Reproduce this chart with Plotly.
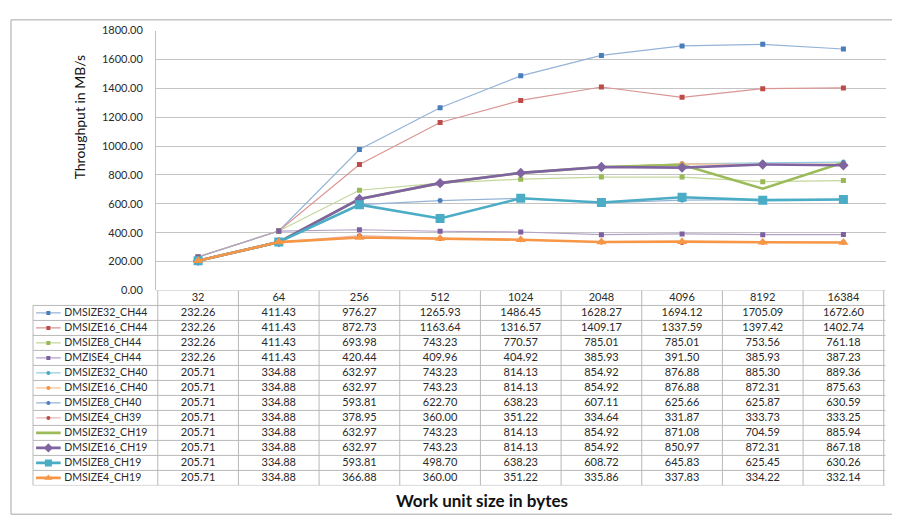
import plotly.graph_objects as go

categories = ["32", "64", "256", "512", "1024", "2048", "4096", "8192", "16384"]

series_names = [
    "DMSIZE32_CH44", "DMSIZE16_CH44", "DMSIZE8_CH44", "DMZISE4_CH44",
    "DMSIZE32_CH40", "DMSIZE16_CH40", "DMSIZE8_CH40", "DMSIZE4_CH39",
    "DMSIZE32_CH19", "DMSIZE16_CH19", "DMSIZE8_CH19", "DMSIZE4_CH19",
]

dmsize32_ch44 = [232.26, 411.43, 976.27, 1265.93, 1486.45, 1628.27, 1694.12, 1705.09, 1672.60]
dmsize16_ch44 = [232.26, 411.43, 872.73, 1163.64, 1316.57, 1409.17, 1337.59, 1397.42, 1402.74]
dmsize8_ch44 = [232.26, 411.43, 693.98, 743.23, 770.57, 785.01, 785.01, 753.56, 761.18]
dmzise4_ch44 = [232.26, 411.43, 420.44, 409.96, 404.92, 385.93, 391.50, 385.93, 387.23]
dmsize32_ch40 = [205.71, 334.88, 632.97, 743.23, 814.13, 854.92, 876.88, 885.30, 889.36]
dmsize16_ch40 = [205.71, 334.88, 632.97, 743.23, 814.13, 854.92, 876.88, 872.31, 875.63]
dmsize8_ch40 = [205.71, 334.88, 593.81, 622.70, 638.23, 607.11, 625.66, 625.87, 630.59]
dmsize4_ch39 = [205.71, 334.88, 378.95, 360.00, 351.22, 334.64, 331.87, 333.73, 333.25]
dmsize32_ch19 = [205.71, 334.88, 632.97, 743.23, 814.13, 854.92, 871.08, 704.59, 885.94]
dmsize16_ch19 = [205.71, 334.88, 632.97, 743.23, 814.13, 854.92, 850.97, 872.31, 867.18]
dmsize8_ch19 = [205.71, 334.88, 593.81, 498.70, 638.23, 608.72, 645.83, 625.45, 630.26]
dmsize4_ch19 = [205.71, 334.88, 366.88, 360.00, 351.22, 335.86, 337.83, 334.22, 332.14]

series_values = [
    dmsize32_ch44, dmsize16_ch44, dmsize8_ch44, dmzise4_ch44,
    dmsize32_ch40, dmsize16_ch40, dmsize8_ch40, dmsize4_ch39,
    dmsize32_ch19, dmsize16_ch19, dmsize8_ch19, dmsize4_ch19,
]

y_ticks = [0, 200, 400, 600, 800, 1000, 1200, 1400, 1600, 1800]

# styles: (line color, line width, marker color, marker symbol, marker size, legend marker size)
styles = [
    ("#95B3D7", 1.2, "#4A7EBB", "square", 5, 4),
    ("#D99694", 1.2, "#BE4B48", "square", 5, 4),
    ("#C3D69B", 1.2, "#98B954", "square", 5, 4),
    ("#B3A2C7", 1.2, "#7D60A0", "square", 5, 4),
    ("#93CDDD", 1.2, "#46AAC5", "circle", 5, 4),
    ("#FAC090", 1.2, "#F69240", "circle", 5, 4),
    ("#95B3D7", 1.2, "#4A7EBB", "circle", 5, 4),
    ("#E6B9B8", 1.2, "#BE4B48", "circle", 5, 4),
    ("#9BBB59", 2.6, None, None, 0, 0),
    ("#8064A2", 2.6, "#8064A2", "diamond", 8, 7),
    ("#4BACC6", 2.6, "#4BACC6", "square", 9, 7),
    ("#F79646", 2.6, "#F79646", "triangle-up", 9, 7),
]

W, H = 900, 519
FONT = "Lato"
TXT = "#2a2a2a"
GRID = "#c4c4c4"
TLINE = "#b8b8b8"

def px(x):
    return x / W

def py(y):
    return 1 - y / H

PLOT_L, PLOT_R, PLOT_T, PLOT_B = 148, 877.5, 16, 282.5
TABLE_L, TABLE_B = 25, 482.5

fig = go.Figure()

# main chart lines
for name, vals, st in zip(series_names, series_values, styles):
    lc, lw, mc, sym, ms, _ = st
    if sym is None:
        fig.add_trace(go.Scatter(x=categories, y=vals, mode="lines", name=name,
                                 line=dict(color=lc, width=lw), hoverinfo="skip",
                                 showlegend=False, xaxis="x", yaxis="y"))
    else:
        fig.add_trace(go.Scatter(x=categories, y=vals, mode="lines+markers", name=name,
                                 line=dict(color=lc, width=lw),
                                 marker=dict(color=mc, symbol=sym, size=ms, line=dict(width=0)),
                                 hoverinfo="skip", showlegend=False, xaxis="x", yaxis="y"))

# table header
fig.add_trace(go.Scatter(x=categories, y=[0] * len(categories), mode="text",
                         text=categories, textposition="middle center",
                         textfont=dict(family=FONT, size=11, color=TXT),
                         hoverinfo="skip", showlegend=False, xaxis="x2", yaxis="y2"))

# table rows
for r, (name, vals, st) in enumerate(zip(series_names, series_values, styles), start=1):
    fig.add_trace(go.Scatter(x=categories, y=[r] * len(categories), mode="text",
                             text=[f"{v:.2f}" for v in vals], textposition="middle center",
                             textfont=dict(family=FONT, size=11, color=TXT),
                             hoverinfo="skip", showlegend=False, xaxis="x2", yaxis="y2"))
    lc, lw, mc, sym, ms, lms = st
    # legend key line
    fig.add_trace(go.Scatter(x=[0.025, 0.225], y=[r, r], mode="lines",
                             line=dict(color=lc, width=lw), hoverinfo="skip",
                             showlegend=False, xaxis="x3", yaxis="y2"))
    if sym is not None:
        fig.add_trace(go.Scatter(x=[0.125], y=[r], mode="markers",
                                 marker=dict(color=mc, symbol=sym, size=lms, line=dict(width=0)),
                                 hoverinfo="skip", showlegend=False, xaxis="x3", yaxis="y2"))
    fig.add_trace(go.Scatter(x=[0.255], y=[r], mode="text", text=[name],
                             textposition="middle right",
                             textfont=dict(family=FONT, size=10.5, color=TXT),
                             hoverinfo="skip", showlegend=False, xaxis="x3", yaxis="y2"))

shapes = []
n_rows = len(series_names)
n_cols = len(categories)
# horizontal table lines
shapes.append(dict(type="line", xref="paper", yref="y2", x0=px(PLOT_L), x1=px(PLOT_R),
                   y0=-0.5, y1=-0.5, line=dict(color=TLINE, width=1)))
for r in range(n_rows + 1):
    shapes.append(dict(type="line", xref="paper", yref="y2", x0=px(TABLE_L), x1=px(PLOT_R),
                       y0=r + 0.5, y1=r + 0.5, line=dict(color=TLINE, width=1)))
# vertical table lines
for c in range(n_cols + 1):
    shapes.append(dict(type="line", xref="x2", yref="y2", x0=c - 0.5, x1=c - 0.5,
                       y0=-0.5, y1=n_rows + 0.5, line=dict(color=TLINE, width=1)))
shapes.append(dict(type="line", xref="paper", yref="y2", x0=px(TABLE_L), x1=px(TABLE_L),
                   y0=0.5, y1=n_rows + 0.5, line=dict(color=TLINE, width=1)))
# outer chart frame
shapes.append(dict(type="rect", xref="paper", yref="paper", x0=px(3), x1=px(891),
                   y0=py(512), y1=py(5), line=dict(color="#a6a6a6", width=1)))

fig.update_layout(
    width=W, height=H, autosize=False,
    margin=dict(l=0, r=0, t=0, b=0),
    paper_bgcolor="white", plot_bgcolor="white",
    font=dict(family=FONT, color=TXT),
    showlegend=False,
    shapes=shapes,
    xaxis=dict(type="category", categoryorder="array", categoryarray=categories,
               domain=[px(PLOT_L), px(PLOT_R)], anchor="y",
               showticklabels=False, showgrid=False, zeroline=False, showline=False, ticks=""),
    yaxis=dict(domain=[py(PLOT_B), py(PLOT_T)], anchor="x", range=[0, 1800],
               tickvals=y_ticks, tickformat=".2f",
               showgrid=True, gridcolor=GRID, gridwidth=1.4, zeroline=False,
               showline=True, linecolor="#bfbfbf", linewidth=1, ticks="",
               ticklabelstandoff=10,
               tickfont=dict(family=FONT, size=11, color=TXT)),
    xaxis2=dict(type="category", categoryorder="array", categoryarray=categories,
                matches="x", domain=[px(PLOT_L), px(PLOT_R)], anchor="y2", visible=False),
    yaxis2=dict(domain=[py(TABLE_B), py(PLOT_B)], anchor="x2", range=[n_rows + 0.5, -0.5],
                visible=False),
    xaxis3=dict(domain=[px(TABLE_L), px(PLOT_L)], anchor="y2", range=[0, 1], visible=False),
    annotations=[
        dict(text="Throughput in MB/s", xref="paper", yref="paper", x=px(71), y=py(105),
             textangle=-90, showarrow=False, xanchor="center", yanchor="middle",
             font=dict(family=FONT, size=14, color="#111111")),
        dict(text="<b>Work unit size in bytes</b>", xref="paper", yref="paper",
             x=px(474), y=py(498), showarrow=False, xanchor="center", yanchor="middle",
             font=dict(family=FONT, size=17, color="#111111")),
    ],
)

fig.write_html("out.html")
